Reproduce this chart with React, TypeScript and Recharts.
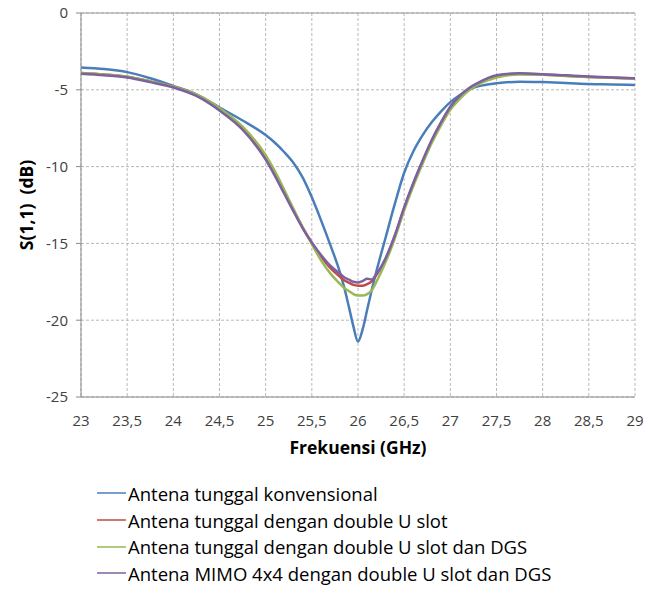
import React from "react";
import { LineChart, Line, XAxis, YAxis, CartesianGrid, ReferenceLine, Label } from "recharts";

// frequency sweep (GHz), finer around the resonance
const freqs = [
  23, 23.25, 23.5, 23.75, 24, 24.25, 24.5, 24.75, 25, 25.1, 25.2, 25.3, 25.4, 25.5, 25.6, 25.7, 25.8, 25.85,
  25.9, 25.95, 26, 26.05, 26.1, 26.15, 26.2, 26.3, 26.4, 26.5, 26.6, 26.7, 26.8, 26.9, 27, 27.1, 27.2, 27.3,
  27.4, 27.5, 27.75, 28, 28.25, 28.5, 28.75, 29,
];

// S11 (dB) per antenna
const konvensional = [
  -3.55, -3.65, -3.85, -4.25, -4.75, -5.3, -6.15, -7.0, -7.95, -8.45, -9.05, -9.75, -10.7, -12.0, -13.5, -15.1,
  -16.8, -17.85, -19.1, -20.4, -21.4, -20.6, -19.3, -18.0, -16.8, -14.6, -12.4, -10.4, -9.0, -7.95, -7.1, -6.4,
  -5.8, -5.35, -5.0, -4.78, -4.66, -4.58, -4.47, -4.5, -4.55, -4.62, -4.65, -4.69,
];
const doubleUSlot = [
  -3.9, -4.0, -4.15, -4.45, -4.8, -5.35, -6.25, -7.5, -9.4, -10.4, -11.6, -12.8, -13.95, -14.95, -15.85, -16.6,
  -17.15, -17.4, -17.55, -17.7, -17.75, -17.75, -17.65, -17.45, -17.05, -16.0, -14.5, -12.7, -11.1, -9.65, -8.3,
  -7.15, -6.15, -5.45, -4.95, -4.6, -4.3, -4.12, -3.95, -4.0, -4.08, -4.16, -4.22, -4.26,
];
const doubleUSlotDgs = [
  -3.9, -4.0, -4.15, -4.45, -4.8, -5.3, -6.2, -7.4, -9.25, -10.3, -11.5, -12.75, -13.95, -15.05, -16.1, -16.95,
  -17.6, -17.9, -18.1, -18.3, -18.4, -18.4, -18.3, -18.05, -17.5, -16.2, -14.65, -12.85, -11.25, -9.8, -8.45,
  -7.3, -6.3, -5.6, -5.05, -4.65, -4.4, -4.2, -4.0, -4.02, -4.1, -4.17, -4.22, -4.27,
];
const mimo4x4 = [
  -3.95, -4.05, -4.2, -4.5, -4.85, -5.4, -6.35, -7.6, -9.55, -10.6, -11.75, -12.9, -14.0, -14.95, -15.75, -16.45,
  -16.95, -17.2, -17.35, -17.5, -17.55, -17.45, -17.3, -17.35, -17.0, -15.95, -14.45, -12.65, -11.05, -9.6, -8.25,
  -7.1, -6.1, -5.4, -4.9, -4.55, -4.25, -4.05, -3.93, -3.98, -4.06, -4.14, -4.2, -4.25,
];

const xTicks = [23, 23.5, 24, 24.5, 25, 25.5, 26, 26.5, 27, 27.5, 28, 28.5, 29];
const yTicks = [0, -5, -10, -15, -20, -25];

const series = [
  { key: "konv", name: "Antena tunggal konvensional", color: "#4a7ebb", values: konvensional },
  { key: "uslot", name: "Antena tunggal dengan double U slot", color: "#be4b48", values: doubleUSlot },
  { key: "uslotDgs", name: "Antena tunggal dengan double U slot dan DGS", color: "#98b954", values: doubleUSlotDgs },
  { key: "mimo", name: "Antena MIMO 4x4 dengan double U slot dan DGS", color: "#7d60a0", values: mimo4x4 },
];

const data = freqs.map((f, i) => {
  const row: Record<string, number> = { f };
  series.forEach((s) => (row[s.key] = s.values[i]));
  return row;
});

const FONT = "'Open Sans', sans-serif";
const tickStyle = { fill: "#404040", fontSize: 15, fontFamily: FONT };
const titleStyle = { fill: "#000", fontSize: 17.5, fontWeight: 700, fontFamily: FONT };

export default function App() {
  // pulled up over the body margin so the "0" tick has room above the plot
  return (
    <div style={{ position: "relative", width: 649, height: 607, marginTop: -8, fontFamily: FONT }}>
      <LineChart width={649} height={468} data={data} margin={{ top: 13, right: 22, bottom: 11, left: 0 }}>
        <CartesianGrid stroke="#b8b8b8" strokeDasharray="3 2" />
        <XAxis
          dataKey="f"
          type="number"
          domain={[23, 29]}
          ticks={xTicks}
          interval={0}
          tickFormatter={(v: number) => String(v).replace(".", ",")}
          tick={tickStyle}
          tickLine={false}
          tickMargin={12}
          stroke="#8a8a8a"
          height={60}
        >
          <Label value="Frekuensi (GHz)" position="insideBottom" offset={3} style={titleStyle} />
        </XAxis>
        <YAxis
          type="number"
          domain={[-25, 0]}
          ticks={yTicks}
          interval={0}
          tick={tickStyle}
          tickSize={5}
          tickMargin={8}
          stroke="#8a8a8a"
          width={73}
        >
          <Label
            value={"S(1,1)\u00a0 (dB)"}
            angle={-90}
            position="insideLeft"
            offset={19}
            style={{ ...titleStyle, textAnchor: "middle" }}
          />
        </YAxis>
        <ReferenceLine y={0} stroke="#9a9a9a" />
        {series.map((s) => (
          <Line
            key={s.key}
            dataKey={s.key}
            name={s.name}
            type="monotone"
            stroke={s.color}
            strokeWidth={2.5}
            dot={false}
            isAnimationActive={false}
          />
        ))}
      </LineChart>
      <div style={{ position: "absolute", left: 89, top: 480 }}>
        {series.map((s) => (
          <div key={s.key} style={{ display: "flex", alignItems: "center", height: 26.7 }}>
            <svg width={30} height={4} style={{ marginRight: 1 }}>
              <line x1={0} y1={2} x2={29} y2={2} stroke={s.color} strokeWidth={1.5} />
            </svg>
            <span style={{ fontSize: 18.5, color: "#000", whiteSpace: "nowrap" }}>{s.name}</span>
          </div>
        ))}
      </div>
    </div>
  );
}
